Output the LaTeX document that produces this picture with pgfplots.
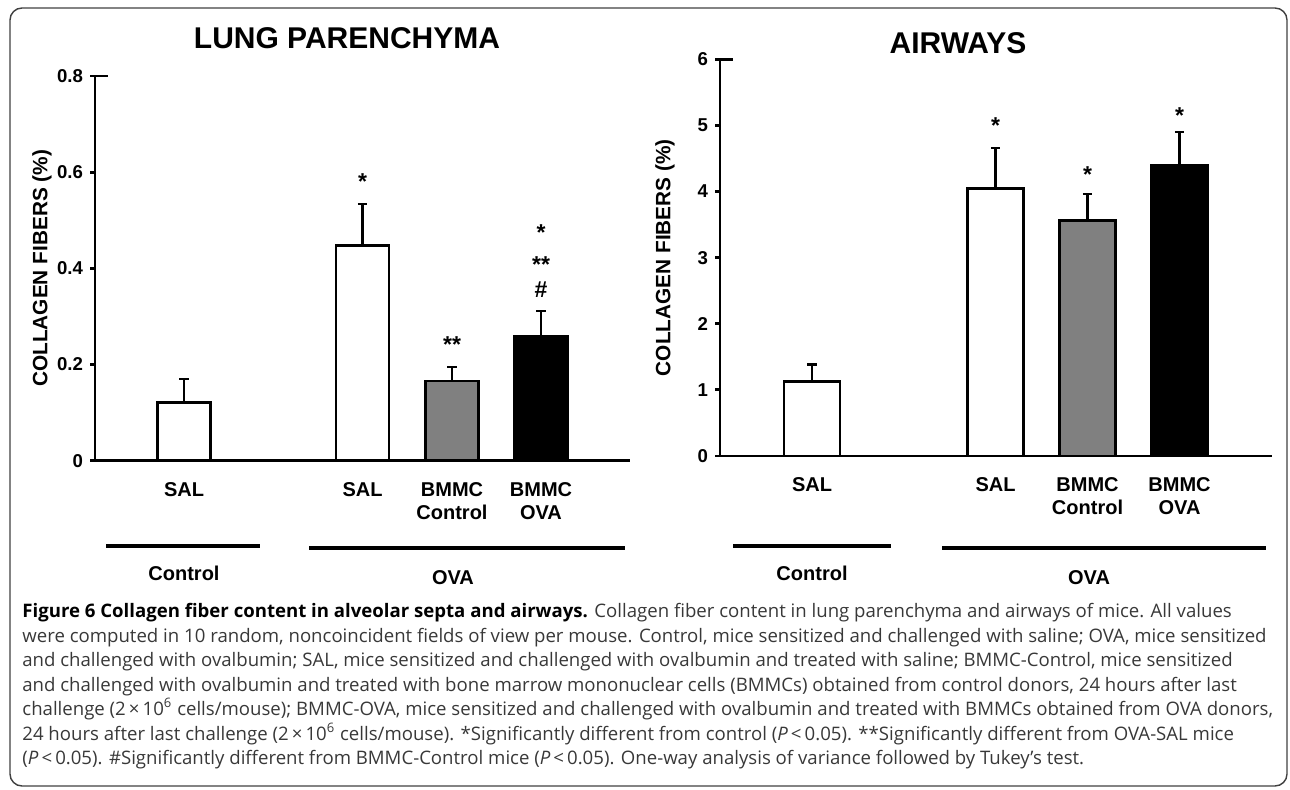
\documentclass[border=0pt]{standalone}
\usepackage{fontspec}
\setmainfont{Liberation Sans}
\newfontfamily\capfont{Open Sans}
\usepackage{pgfplots}
\pgfplotsset{compat=1.18}
\definecolor{bargray}{RGB}{128,128,128}
\definecolor{captxt}{gray}{0.22}
\pgfplotsset{
  mybars/.style={
    scale only axis,
    axis lines=left,
    axis line style={line width=1.4pt,-},
    tick align=outside,
    major tick length=2.5pt,
    ytick style={line width=1.4pt,black},
    xtick style={draw=none},
    tick label style={font=\bfseries\fontsize{9.3}{10}\selectfont},
    xticklabel style={font=\bfseries\fontsize{10}{11.5}\selectfont,align=center,inner sep=0pt,yshift=-8pt},
    ylabel={COLLAGEN FIBERS (\%)},
    ybar,
    clip=false,
  },
  barwhite/.style={fill=white,draw=black,line width=1.3pt,bar shift=0pt,
    error bars/.cd,y dir=plus,y explicit,
    error bar style={line width=1.3pt,black},
    error mark options={rotate=90,mark size=2.3pt,line width=1.3pt,black}},
  bargrey/.style={fill=bargray,draw=black,line width=1.3pt,bar shift=0pt,
    error bars/.cd,y dir=plus,y explicit,
    error bar style={line width=1.3pt,black},
    error mark options={rotate=90,mark size=2.3pt,line width=1.3pt,black}},
  barblack/.style={fill=black,draw=black,line width=1.3pt,bar shift=0pt,
    error bars/.cd,y dir=plus,y explicit,
    error bar style={line width=1.3pt,black},
    error mark options={rotate=90,mark size=2.3pt,line width=1.3pt,black}},
}
\begin{document}
\begin{tikzpicture}
\useasboundingbox (0,0) rectangle (645pt,-395pt);
\begin{scope}[x=0.5pt,y=-0.5pt]
\draw[rounded corners=6pt,line width=0.7pt,black!75] (10,8) rectangle (1287,786);
\end{scope}

% ---------- LUNG PARENCHYMA ----------
\begin{axis}[mybars,
  at={(47.5pt,-230.35pt)},anchor=south west,
  width=267.5pt,height=192.35pt,
  xmin=95,xmax=630,ymin=0,ymax=0.8,
  ytick={0,0.2,0.4,0.6,0.8},yticklabels={0,0.2,0.4,0.6,0.8},
  xtick={184,362.5,452,541},
  xticklabels={SAL,SAL,{BMMC\\Control},{BMMC\\OVA}},
  ylabel style={at={(axis description cs:-0.099,0.5)},anchor=center,font=\bfseries\fontsize{10.4}{12}\selectfont},
  bar width=53,
]
\addplot[barwhite] coordinates {(184,0.1215) +- (0,0.0485) (362.5,0.447) +- (0,0.087)};
\addplot[bargrey] coordinates {(452,0.166) +- (0,0.029)};
\addplot[barblack] coordinates {(541,0.258) +- (0,0.053)};
\draw[line width=1.4pt] (rel axis cs:0,1) -- ([xshift=6.5pt]rel axis cs:0,1);
\begin{scope}[every node/.style={font=\bfseries\fontsize{11.5}{12}\selectfont,inner sep=0pt}]
\node at (axis cs:362.5,0.58) {*};
\node at (axis cs:452,0.241) {**};
\node at (axis cs:541,0.474) {*};
\node at (axis cs:541,0.407) {**};
\node at (axis cs:541,0.355) {\#};
\end{scope}
\end{axis}

% ---------- AIRWAYS ----------
\begin{axis}[mybars,
  at={(360pt,-228pt)},anchor=south west,
  width=276pt,height=198.35pt,
  xmin=720,xmax=1272,ymin=0,ymax=6,
  ytick={0,1,2,3,4,5,6},yticklabels={0,1,2,3,4,5,6},
  xtick={812,995.5,1087.5,1179.5},
  xticklabels={SAL,SAL,{BMMC\\Control},{BMMC\\OVA}},
  ylabel style={at={(axis description cs:-0.0996,0.5)},anchor=center,font=\bfseries\fontsize{10.4}{12}\selectfont},
  bar width=56,
]
\addplot[barwhite] coordinates {(812,1.124) +- (0,0.263) (995.5,4.05) +- (0,0.61)};
\addplot[bargrey] coordinates {(1087.5,3.56) +- (0,0.40)};
\addplot[barblack] coordinates {(1179.5,4.40) +- (0,0.50)};
\draw[line width=1.4pt] (rel axis cs:0,1) -- ([xshift=6.5pt]rel axis cs:0,1);
\begin{scope}[every node/.style={font=\bfseries\fontsize{11.5}{12}\selectfont,inner sep=0pt}]
\node at (axis cs:995.5,5.00) {*};
\node at (axis cs:1087.5,4.25) {*};
\node at (axis cs:1179.5,5.15) {*};
\end{scope}
\end{axis}

\begin{scope}[x=0.5pt,y=-0.5pt]
\node[font=\bfseries\fontsize{15}{18}\selectfont] at (347,38) {LUNG PARENCHYMA};
\node[font=\bfseries\fontsize{15}{18}\selectfont] at (958,43) {AIRWAYS};
\draw[line width=1.8pt] (106,546) -- (260,546);
\draw[line width=1.8pt] (309,548) -- (625,548);
\draw[line width=1.8pt] (733,546) -- (891,546);
\draw[line width=1.8pt] (942,548) -- (1266,548);
\begin{scope}[every node/.style={font=\bfseries\fontsize{10}{12}\selectfont}]
\node at (184,573) {Control};
\node at (453,578) {OVA};
\node at (812,573) {Control};
\node at (1089,578) {OVA};
\end{scope}
\node[anchor=north west,inner sep=0pt,align=left,text=captxt,font=\capfont\fontsize{9.3}{12.25}\selectfont] at (22,603) {%
{\color{black}\bfseries Figure 6 Collagen fiber content in alveolar septa and airways.} Collagen fiber content in lung parenchyma and airways of mice. All values\\
were computed in 10 random, noncoincident fields of view per mouse. Control, mice sensitized and challenged with saline; OVA, mice sensitized\\
and challenged with ovalbumin; SAL, mice sensitized and challenged with ovalbumin and treated with saline; BMMC-Control, mice sensitized\\
and challenged with ovalbumin and treated with bone marrow mononuclear cells (BMMCs) obtained from control donors, 24 hours after last\\
challenge (2\,×\,10\textsuperscript{6} cells/mouse); BMMC-OVA, mice sensitized and challenged with ovalbumin and treated with BMMCs obtained from OVA donors,\\
24 hours after last challenge (2\,×\,10\textsuperscript{6} cells/mouse). *Significantly different from control (\textit{P}\,<\,0.05). **Significantly different from OVA-SAL mice\\
(\textit{P}\,<\,0.05). \#Significantly different from BMMC-Control mice (\textit{P}\,<\,0.05). One-way analysis of variance followed by Tukey’s test.};
\end{scope}
\end{tikzpicture}
\end{document}
